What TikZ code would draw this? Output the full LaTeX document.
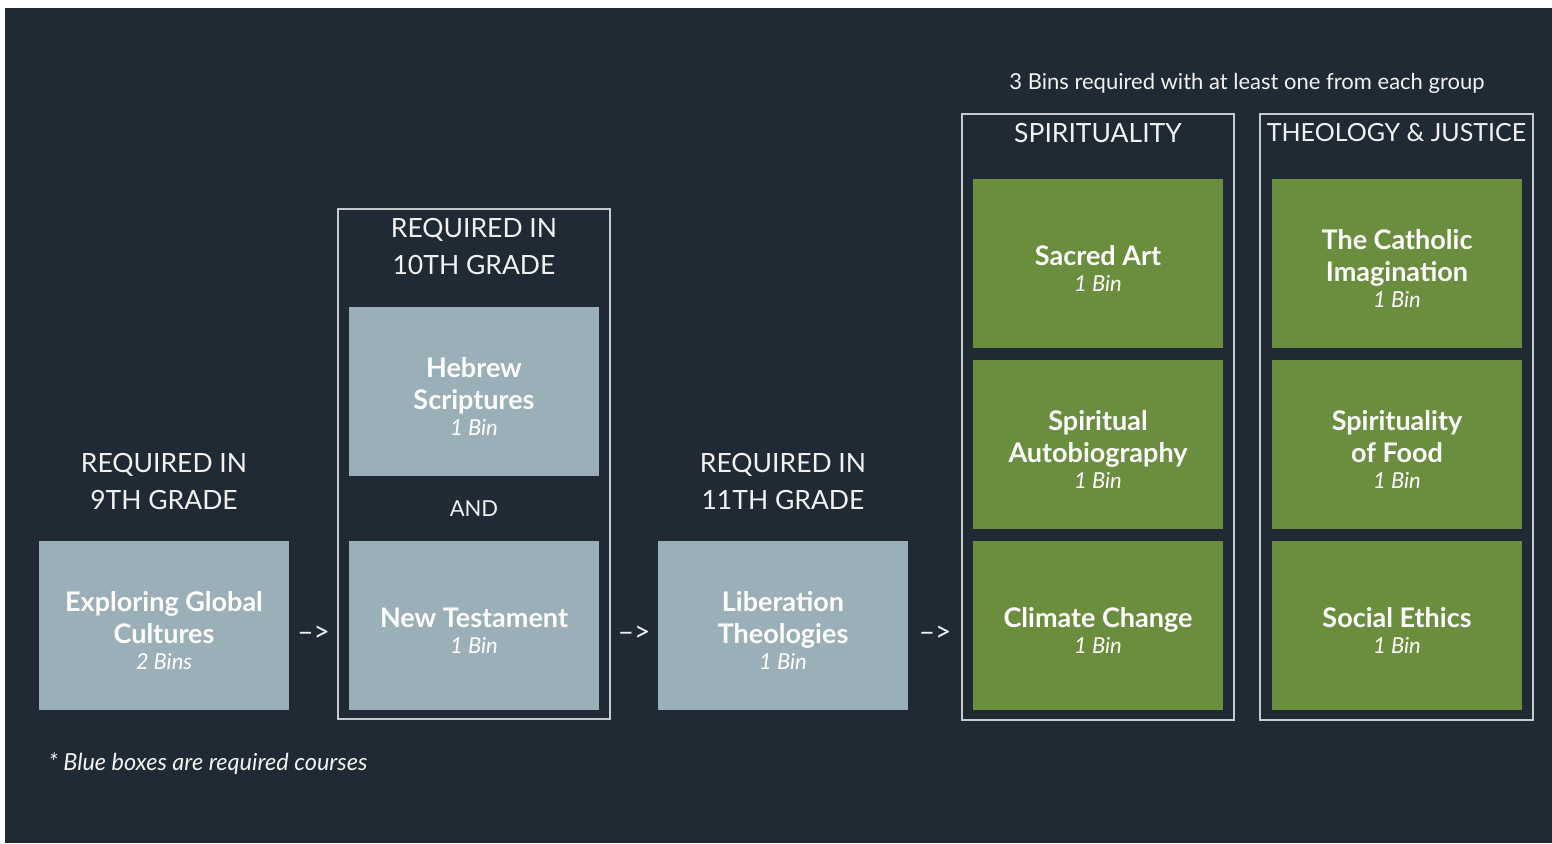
\documentclass[tikz,border=0pt]{standalone}
\usepackage{fontspec}
\setmainfont{Lato}
\usetikzlibrary{positioning,calc}
\definecolor{bgdark}{HTML}{1F2A34}
\definecolor{reqblue}{HTML}{9AAFB7}
\definecolor{optgreen}{HTML}{6A8E3E}
\definecolor{framegray}{HTML}{C5CACE}
\definecolor{lighttext}{HTML}{F2F2F2}
\newcommand{\bins}[1]{\\[-6pt]{\fontsize{22}{24}\selectfont\mdseries\itshape #1}}
\tikzset{
  coursebox/.style={fill=#1, minimum width=250pt, minimum height=169pt, inner sep=0pt, outer sep=0pt},
  coursetxt/.style={align=center, text=white, yshift=-5pt, font=\fontsize{27}{32}\selectfont\bfseries},
  framebox/.style={draw=framegray, line width=1.2pt},
  heading/.style={align=center, text=lighttext, font=\fontsize{26.5}{37}\selectfont},
  smalltxt/.style={text=lighttext, font=\fontsize{22}{26}\selectfont},
  arrowtxt/.style={text=lighttext, yshift=-8pt, font=\fontsize{28}{30}\selectfont}
}
\begin{document}
\begin{tikzpicture}[x=1pt,y=-1pt]
  \useasboundingbox (0,0) rectangle (1552,843);
  \fill[white] (0,0) rectangle (1552,843);
  \fill[bgdark] (5,8) rectangle (1552,843);

  \node[coursebox=reqblue] (ex) at (164,625.5) {};
  \node[coursebox=reqblue, right=60pt of ex] (nt) {};
  \node[coursebox=reqblue, above=65pt of nt] (heb) {};
  \node[coursebox=reqblue, right=59pt of nt] (lib) {};
  \node[coursebox=optgreen, right=65pt of lib] (climate) {};
  \node[coursebox=optgreen, above=12pt of climate] (auto) {};
  \node[coursebox=optgreen, above=12pt of auto] (sacred) {};
  \node[coursebox=optgreen, right=49pt of climate] (ethics) {};
  \node[coursebox=optgreen, above=12pt of ethics] (food) {};
  \node[coursebox=optgreen, above=12pt of food] (cath) {};

  \node[coursetxt] (extxt) at (ex) {Exploring Global\\Cultures\bins{2 Bins}};
  \node[coursetxt] (nttxt) at (nt) {New Testament\bins{1 Bin}};
  \node[coursetxt] (hebtxt) at (heb) {Hebrew\\Scriptures\bins{1 Bin}};
  \node[coursetxt] (libtxt) at (lib) {Liberation\\Theologies\bins{1 Bin}};
  \node[coursetxt] (climatetxt) at (climate) {Climate Change\bins{1 Bin}};
  \node[coursetxt] (autotxt) at (auto) {Spiritual\\Autobiography\bins{1 Bin}};
  \node[coursetxt] (sacredtxt) at (sacred) {Sacred Art\bins{1 Bin}};
  \node[coursetxt] (ethicstxt) at (ethics) {Social Ethics\bins{1 Bin}};
  \node[coursetxt] (foodtxt) at (food) {Spirituality\\of Food\bins{1 Bin}};
  \node[coursetxt] (cathtxt) at (cath) {The Catholic\\Imagination\bins{1 Bin}};

  \coordinate (f10nw) at ([shift={(-11pt,98pt)}]heb.north west);
  \coordinate (f10se) at ([shift={(11pt,-9pt)}]nt.south east);
  \coordinate (fspnw) at ([shift={(-11pt,65pt)}]sacred.north west);
  \coordinate (fspse) at ([shift={(11pt,-10pt)}]climate.south east);
  \coordinate (fthnw) at ([shift={(-12pt,65pt)}]cath.north west);
  \coordinate (fthse) at ([shift={(11pt,-10pt)}]ethics.south east);
  \draw[framebox] (f10nw) rectangle (f10se);
  \draw[framebox] (fspnw) rectangle (fspse);
  \draw[framebox] (fthnw) rectangle (fthse);

  \coordinate (hdr) at (0,133);
  \coordinate (thmid) at ($(fthnw)!0.5!(fthnw -| fthse)$);
  \node[heading] (g9) at (164,481.5) {REQUIRED IN\\9TH GRADE};
  \node[heading] (g10) at (heb.north |- 0,246.5) {REQUIRED IN\\10TH GRADE};
  \node[heading] (g11) at (783,481.5) {REQUIRED IN\\11TH GRADE};
  \node[smalltxt] (and) at ($(heb.south)!0.5!(nt.north)$) {AND};
  \node[heading] (spir) at (sacred.north |- hdr) {SPIRITUALITY};
  \node[heading, font=\fontsize{25}{30}\selectfont] (theo) at (thmid |- hdr) {THEOLOGY \& JUSTICE};
  \node[smalltxt] (note) at (1247,83) {3 Bins required with at least one from each group};
  \node[smalltxt, anchor=west, font=\fontsize{23.5}{26}\selectfont\itshape] (foot) at (45,764) {* Blue boxes are required courses};

  \node[arrowtxt] (a1) at ($(ex.east)!0.5!(f10nw |- ex.east)$) {–>};
  \node[arrowtxt] (a2) at ($(f10se |- lib.west)!0.5!(lib.west)$) {–>};
  \node[arrowtxt] (a3) at ($(lib.east)!0.5!(fspnw |- lib.east)$) {–>};
\end{tikzpicture}
\end{document}
